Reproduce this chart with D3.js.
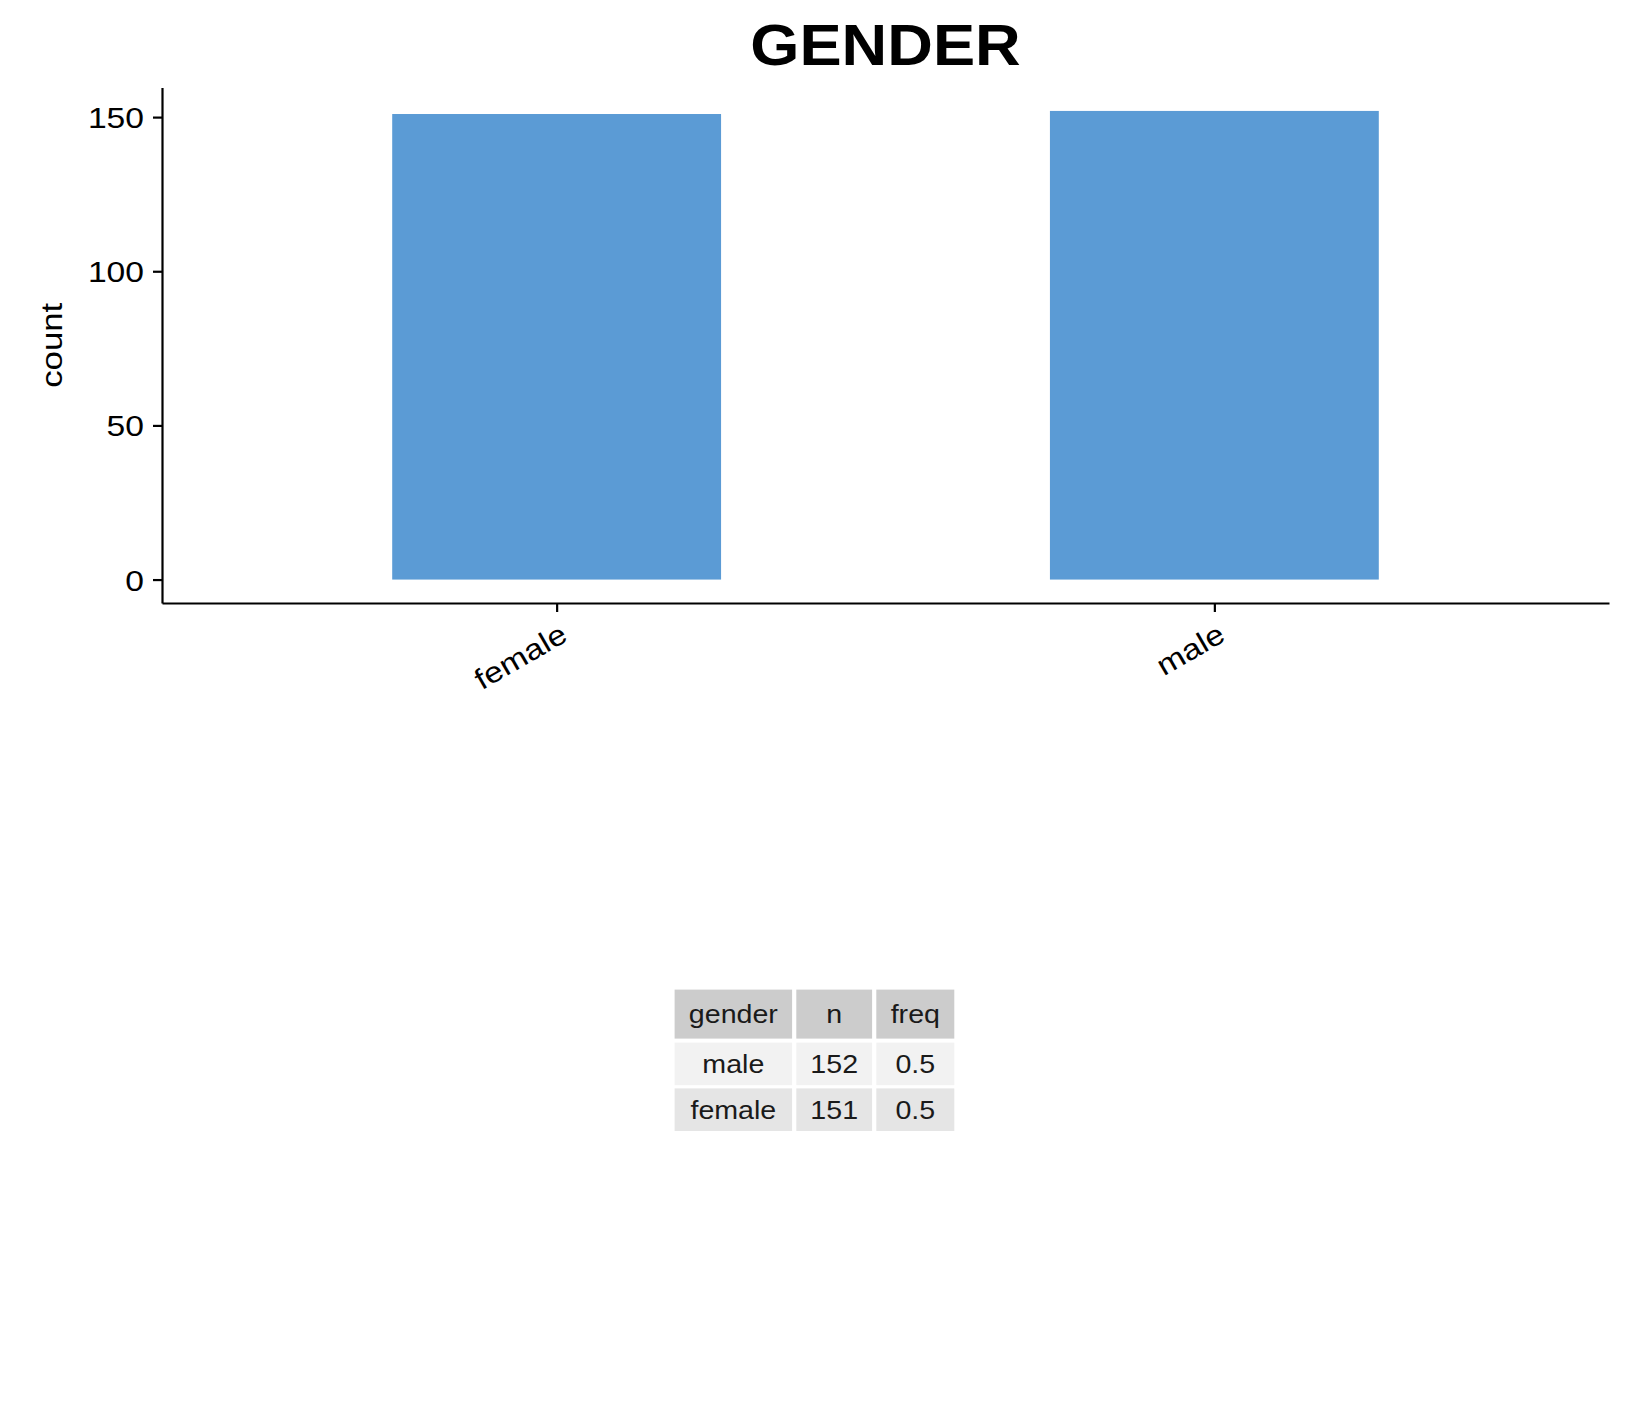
<!DOCTYPE html>
<html>
<head>
<meta charset="utf-8">
<script src="https://cdn.jsdelivr.net/npm/d3@7/dist/d3.min.js"></script>
<style>
  body { margin: 0; background: #fff; }
  svg { display: block; font-family: "Liberation Sans", Helvetica, Arial, sans-serif; }
</style>
</head>
<body>
<svg id="chart"></svg>
<script>
// bar data
let categories = ['female', 'male'];
let counts = [151, 152];
let yTicks = [0, 50, 100, 150];

// summary table
let tableHeader = ['gender', 'n', 'freq'];
let tableGender = ['male', 'female'];
let tableN = [152, 151];
let tableFreq = ['0.5', '0.5'];

let width = 1630;
let height = 1414;
let margin = {top: 87.5, right: 21, bottom: 811, left: 162};
// the original text is drawn a little wider than Liberation Sans
let stretch = 1.16;

let svg = d3.select('#chart')
            .attr('width', width)
            .attr('height', height);

svg.append('rect')
    .attr('width', width)
    .attr('height', height)
    .attr('fill', '#fff');

// ggplot style discrete expansion: 0.6 units either side
let xScale = d3.scaleLinear()
                .domain([0.4, categories.length + 0.6])
                .range([margin.left, width - margin.right]);

let maxCount = d3.max(counts);
let yScale = d3.scaleLinear()
                .domain([-0.05 * maxCount, maxCount * 1.05])
                .range([height - margin.bottom, margin.top]);

let barWidth = xScale(1.5) - xScale(1);

svg.selectAll('rect.bar')
    .data(counts)
    .enter()
    .append('rect')
    .classed('bar', true)
    .attr('x', (d, i) => xScale(i + 1) - barWidth / 2)
    .attr('width', barWidth)
    .attr('y', d => yScale(d))
    .attr('height', d => yScale(0) - yScale(d))
    .attr('fill', '#5b9bd5');

let xAxis = d3.axisBottom(xScale)
              .tickValues(categories.map((c, i) => i + 1))
              .tickFormat((d) => categories[d - 1])
              .tickSize(9)
              .tickSizeOuter(0);

let yAxis = d3.axisLeft(yScale)
              .tickValues(yTicks)
              .tickSize(9)
              .tickPadding(9)
              .tickSizeOuter(0);

let gx = svg.append('g')
    .attr('transform', `translate(0,${height - margin.bottom})`)
    .call(xAxis);

let gy = svg.append('g')
    .attr('transform', `translate(${margin.left},0)`)
    .call(yAxis);

[gx, gy].forEach(g => {
  g.select('.domain').attr('stroke', '#000').attr('stroke-width', 2.2);
  g.selectAll('.tick line').attr('stroke', '#000').attr('stroke-width', 2.2);
  g.selectAll('.tick text')
    .attr('fill', '#000')
    .style('font-size', '29px');
});

gy.selectAll('.tick text')
    .attr('x', 0)
    .attr('dy', '0.36em')
    .attr('transform', `translate(-18,0) scale(${stretch},1)`);

gx.selectAll('.tick text')
    .attr('text-anchor', 'end')
    .attr('dy', null)
    .attr('y', 0)
    .attr('transform', `translate(12,37) rotate(-30) scale(${stretch},1)`);

svg.append('text')
    .attr('transform', `translate(62,${(margin.top + height - margin.bottom) / 2}) rotate(-90) scale(${stretch},1)`)
    .attr('text-anchor', 'middle')
    .style('font-size', '30px')
    .text('count');

svg.append('text')
    .attr('transform', `translate(${(margin.left + width - margin.right) / 2},65) scale(1.09,1)`)
    .attr('text-anchor', 'middle')
    .style('font-size', '58px')
    .style('font-weight', 'bold')
    .text('GENDER');

// table
let colX = [674.6, 796.3, 876.3];
let colW = [117.5, 75.8, 78];
let rowY = [989.6, 1042.6, 1088.4];
let rowH = [49, 42.6, 42.6];
let rowFill = ['#cccccc', '#f2f2f2', '#e5e5e5'];

let rows = [tableHeader].concat(tableGender.map((g, i) => [g, tableN[i], tableFreq[i]]));

let table = svg.append('g');
rows.forEach((row, r) => {
  row.forEach((cell, c) => {
    table.append('rect')
        .attr('x', colX[c])
        .attr('y', rowY[r])
        .attr('width', colW[c])
        .attr('height', rowH[r])
        .attr('fill', rowFill[r]);
    table.append('text')
        .attr('transform', `translate(${colX[c] + colW[c] / 2},${rowY[r] + rowH[r] / 2}) scale(1.1,1)`)
        .attr('dy', '0.36em')
        .attr('text-anchor', 'middle')
        .attr('fill', '#1a1a1a')
        .style('font-size', '26px')
        .text(cell);
  });
});
</script>
</body>
</html>
